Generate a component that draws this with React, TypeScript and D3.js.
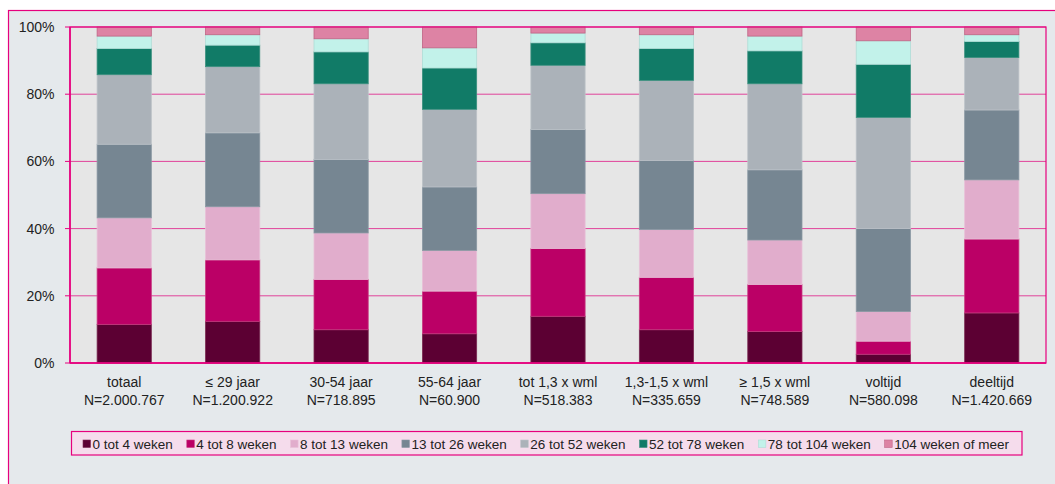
import React, { useMemo } from "react";
import * as d3 from "d3";

const categories = ["totaal", "≤ 29 jaar", "30-54 jaar", "55-64 jaar", "tot 1,3 x wml", "1,3-1,5 x wml", "≥ 1,5 x wml", "voltijd", "deeltijd"];
const counts = ["N=2.000.767", "N=1.200.922", "N=718.895", "N=60.900", "N=518.383", "N=335.659", "N=748.589", "N=580.098", "N=1.420.669"];

const seriesNames = ["0 tot 4 weken", "4 tot 8 weken", "8 tot 13 weken", "13 tot 26 weken", "26 tot 52 weken", "52 tot 78 weken", "78 tot 104 weken", "104 weken of meer"];
const seriesColors = ["#5c0033", "#bb0066", "#e1adcc", "#768692", "#abb2b9", "#117b67", "#c2f2ea", "#dd83a4"];
const seriesStrokes = ["#7a2a52", "#c83a80", "#e8c0d8", "#8a98a3", "#bcc2c8", "#3a8f7e", "#b0dcd6", "#c06585"];

const w0to4 = [11.5, 12.4, 9.9, 8.7, 13.9, 9.9, 9.4, 2.6, 14.9];
const w4to8 = [16.8, 18.3, 15.0, 12.7, 20.2, 15.6, 14.0, 3.9, 22.0];
const w8to13 = [14.9, 15.8, 13.8, 12.1, 16.3, 14.2, 13.2, 8.8, 17.6];
const w13to26 = [21.9, 22.0, 21.9, 18.9, 19.1, 20.6, 20.9, 24.7, 20.8];
const w26to52 = [20.7, 19.7, 22.5, 23.1, 19.1, 23.8, 25.6, 33.1, 15.6];
const w52to78 = [7.8, 6.4, 9.5, 12.3, 6.7, 9.5, 9.8, 15.8, 4.8];
const w78to104 = [3.7, 3.1, 3.9, 6.0, 2.9, 4.1, 4.4, 7.0, 2.0];
const w104plus = [2.7, 2.3, 3.5, 6.2, 1.8, 2.3, 2.7, 4.1, 2.3];

const seriesValues = [w0to4, w4to8, w8to13, w13to26, w26to52, w52to78, w78to104, w104plus];
const yTicks = [0, 20, 40, 60, 80, 100];

const FONT = "'Liberation Sans', Arial, sans-serif";
const MAGENTA = "#e6007e";
const GRID = "#e0439a";

export default function App() {
  const W = 1055, H = 484;
  const plot = { left: 70, top: 27, right: 1046, bottom: 363 };

  const x = d3.scaleBand<string>().domain(categories).range([plot.left, plot.right]).paddingInner(0.5).paddingOuter(0.25);
  const y = d3.scaleLinear().domain([0, 100]).range([plot.bottom, plot.top]);

  const rows = categories.map((c, i) => {
    const r: any = { cat: c };
    seriesNames.forEach((s, k) => (r[s] = seriesValues[k][i]));
    return r;
  });
  const stack = d3.stack<any>().keys(seriesNames);
  const stacked = stack(rows);

  const legendItems = useMemo(() => {
    const canvas = document.createElement("canvas");
    const ctx = canvas.getContext("2d")!;
    ctx.font = `13.5px ${FONT}`;
    const start = 83, end = 1009, sw = 9.5;
    const widths = seriesNames.map((s) => ctx.measureText(s).width);
    const total = widths.reduce((a, b) => a + b + sw, 0);
    const gap = (end - start - total) / (seriesNames.length - 1);
    let cx = start;
    return seriesNames.map((s, k) => {
      const item = { name: s, color: seriesColors[k], stroke: seriesStrokes[k], x: cx };
      cx += sw + widths[k] + gap;
      return item;
    });
  }, []);

  return (
    <svg width={W} height={H} style={{ display: "block", position: "absolute", left: 0, top: 0 }} fontFamily={FONT}>
      <rect x={0} y={0} width={W} height={H} fill="#ffffff" />
      <rect x={8.5} y={10.5} width={W + 10} height={H + 10} fill="#e5e9ec" stroke={MAGENTA} strokeWidth={1.2} />
      <rect x={plot.left} y={plot.top} width={plot.right - plot.left} height={plot.bottom - plot.top} fill="#e6e6e6" />
      {yTicks.map((t) => (
        <g key={t}>
          <line x1={plot.left} x2={plot.right} y1={y(t)} y2={y(t)} stroke={GRID} strokeWidth={1} />
          <line x1={65} x2={plot.left} y1={y(t)} y2={y(t)} stroke={MAGENTA} strokeWidth={1} />
          <text x={54.5} y={y(t) + 5} textAnchor="end" fontSize={14} fill="#222">{t}%</text>
        </g>
      ))}
      {stacked.map((layer, k) => (
        <g key={layer.key}>
          {layer.map((d, i) => (
            <rect
              key={i}
              x={x(categories[i])!}
              y={y(d[1])}
              width={x.bandwidth()}
              height={y(d[0]) - y(d[1])}
              fill={seriesColors[k]}
              stroke={seriesStrokes[k]}
              strokeWidth={0.8}
            />
          ))}
        </g>
      ))}
      <rect x={plot.left} y={plot.top} width={plot.right - plot.left} height={plot.bottom - plot.top} fill="none" stroke={MAGENTA} strokeWidth={1.2} />
      <line x1={plot.left} x2={plot.left} y1={plot.top} y2={plot.bottom} stroke={MAGENTA} strokeWidth={1.6} />
      <line x1={plot.left} x2={plot.right} y1={plot.bottom} y2={plot.bottom} stroke={MAGENTA} strokeWidth={1.6} />
      {categories.map((c, i) => {
        const cx = x(c)! + x.bandwidth() / 2;
        return (
          <g key={c}>
            <text x={cx} y={387} textAnchor="middle" fontSize={14} fill="#222">{c}</text>
            <text x={cx} y={405} textAnchor="middle" fontSize={14} fill="#222">{counts[i]}</text>
          </g>
        );
      })}
      <rect x={71.5} y={431.5} width={950.5} height={23.5} fill="#f5dcec" stroke={MAGENTA} strokeWidth={1.2} />
      {legendItems.map((it) => (
        <g key={it.name}>
          <rect x={it.x} y={440} width={7.5} height={7.5} fill={it.color} stroke={it.stroke} strokeWidth={0.6} />
          <text x={it.x + 9.5} y={448.5} fontSize={13.5} fill="#222">{it.name}</text>
        </g>
      ))}
    </svg>
  );
}
